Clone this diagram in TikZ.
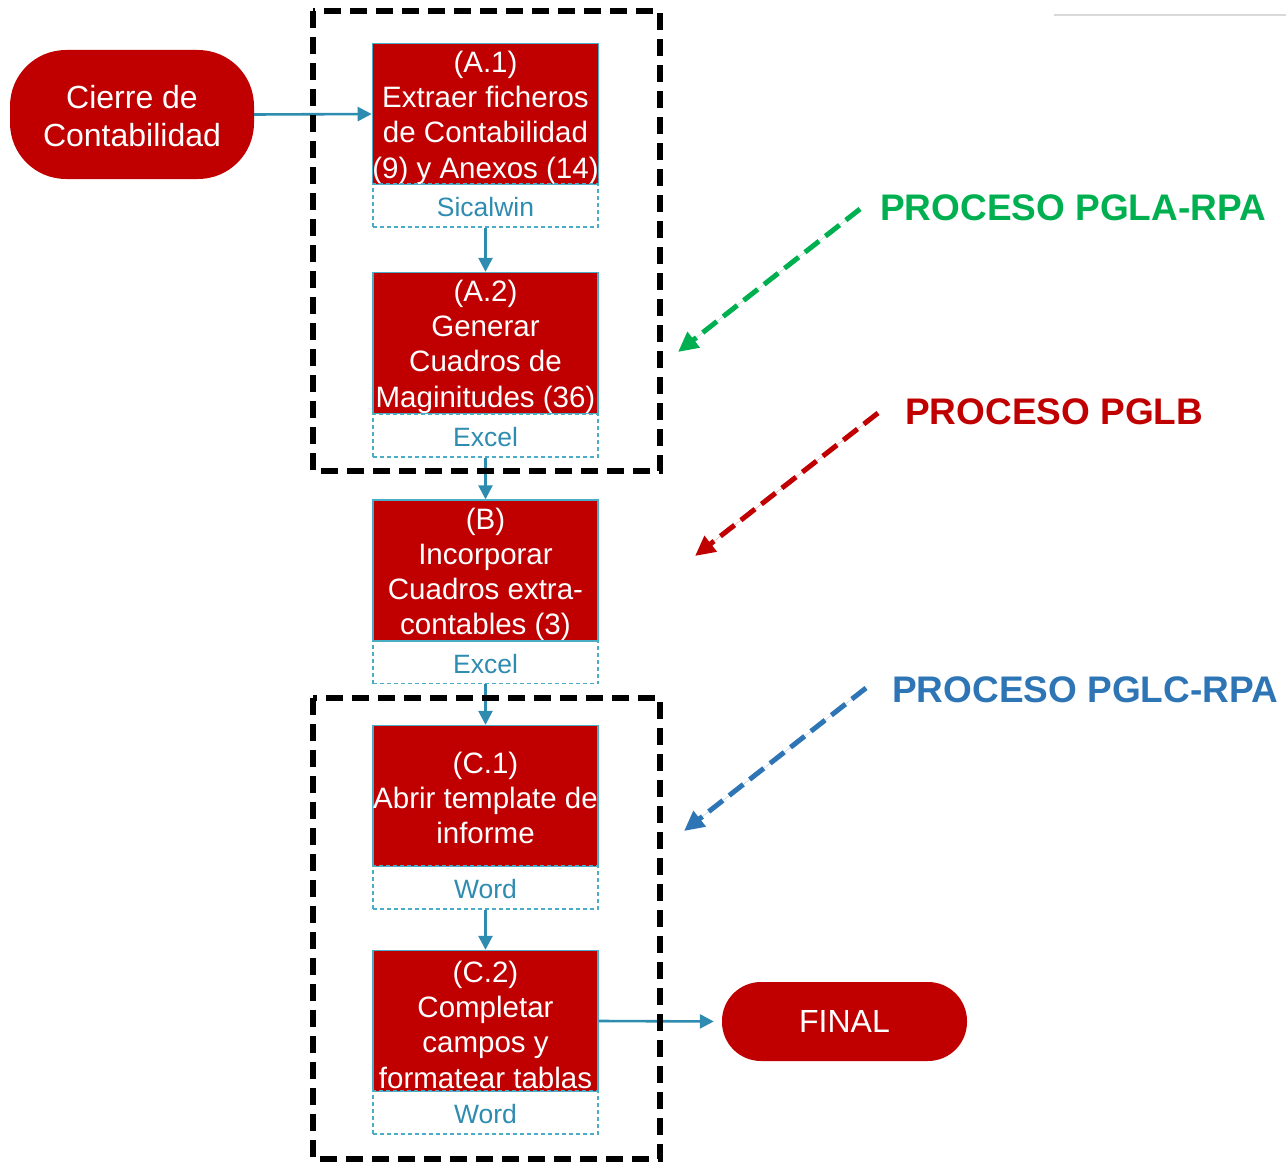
\documentclass[tikz,border=0pt]{standalone}
\usepackage{fontspec}
\setmainfont{Liberation Sans}
\usetikzlibrary{arrows.meta}
\definecolor{boxred}{HTML}{C00000}
\definecolor{tealtxt}{HTML}{2E8CB0}
\definecolor{tealbd}{HTML}{4BACC6}
\definecolor{pgreen}{HTML}{00B050}
\definecolor{pblue}{HTML}{2E75B6}
\newcommand{\stepstrut}{\rule{0pt}{29pt}}
\newcommand{\shortstrut}{\rule{0pt}{26pt}}
\newcommand{\termstrut}{\rule{0pt}{26pt}}
\begin{document}
\begin{tikzpicture}[x=1pt,y=-1pt,
  stepbox/.style={rectangle, fill=boxred, draw=tealbd, line width=1.4pt, text=white,
    minimum width=225pt, minimum height=141pt, inner sep=0pt, align=center,
    font=\fontsize{29.5}{35.1}\selectfont},
  toolbox/.style={rectangle, draw=tealbd, dash pattern=on 4pt off 3pt, line width=1.2pt,
    text=tealtxt, minimum width=225pt, minimum height=43pt, inner sep=0pt,
    font=\fontsize{26.5}{30}\selectfont, execute at begin node={\rule{0pt}{23pt}}},
  termbox/.style={rectangle, fill=boxred, text=white, align=center, inner sep=0pt,
    font=\fontsize{32}{38}\selectfont},
  flow/.style={draw=tealtxt, line width=2.6pt, -{Triangle[length=14pt,width=14pt]}},
  groupbox/.style={draw=black, line width=5.5pt, dash pattern=on 17pt off 9pt},
  procarrow/.style={line width=5pt, dash pattern=on 18pt off 8pt, -{Triangle[length=20pt,width=19pt]}},
  proclabel/.style={anchor=west, inner sep=0pt, font=\fontsize{37}{40}\selectfont\bfseries}
]
\useasboundingbox (0,0) rectangle (1286,1164);
\draw[draw={rgb,255:red,217;green,217;blue,217}, line width=1.5pt] (1054,15) -- (1286,15);

% terminals
\node[termbox, minimum width=244pt, minimum height=129pt, rounded corners=56pt] (cierre) at (132,114.5) {\termstrut Cierre de\\Contabilidad};
\node[termbox, minimum width=245pt, minimum height=79pt, rounded corners=39pt] (final) at (844.5,1021.5) {FINAL};

% steps
\node[stepbox] (a1) at (485.5,114) {\stepstrut(A.1)\\Extraer ficheros\\de Contabilidad\\(9) y Anexos (14)};
\node[toolbox] (a1s) at (485.5,205.5) {Sicalwin};
\node[stepbox] (a2) at (485.5,343) {\stepstrut(A.2)\\Generar\\Cuadros de\\Maginitudes (36)};
\node[toolbox] (a2s) at (485.5,435.5) {Excel};
\node[stepbox] (b) at (485.5,570.5) {\stepstrut(B)\\Incorporar\\Cuadros extra-\\contables (3)};
\node[toolbox] (bs) at (485.5,662) {Excel};
\node[stepbox] (c1) at (485.5,796) {\shortstrut(C.1)\\Abrir template de\\informe};
\node[toolbox] (c1s) at (485.5,887.5) {Word};
\node[stepbox] (c2) at (485.5,1021) {\stepstrut(C.2)\\Completar\\campos y\\formatear tablas};
\node[toolbox] (c2s) at (485.5,1112.5) {Word};

% connectors
\draw[flow] (cierre.east) -- (a1.west);
\draw[flow] (a1s.south) -- (a2.north);
\draw[flow] (a2s.south) -- (b.north);
\draw[flow] (bs.south) -- (c1.north);
\draw[flow] (c1s.south) -- (c2.north);
\draw[flow, shorten >=8pt] (c2.east) -- (final.west);

% group boxes
\draw[groupbox] (313,11) rectangle (660,471);
\draw[groupbox] (313,698) rectangle (660,1159);

% process labels
\node[proclabel, text=pgreen] (pgla) at (880,208) {PROCESO PGLA-RPA};
\node[proclabel, text=boxred] (pglb) at (905,412) {PROCESO PGLB};
\node[proclabel, text=pblue] (pglc) at (892,690) {PROCESO PGLC-RPA};

\coordinate (gs) at (860,209);
\coordinate (ge) at (678,352);
\coordinate (rs) at (878,413);
\coordinate (re) at (695,556);
\coordinate (bls) at (866,688);
\coordinate (ble) at (684,831);
\draw[procarrow, draw=pgreen, fill=pgreen] (gs) -- (ge);
\draw[procarrow, draw=boxred, fill=boxred] (rs) -- (re);
\draw[procarrow, draw=pblue, fill=pblue] (bls) -- (ble);
\end{tikzpicture}
\end{document}
